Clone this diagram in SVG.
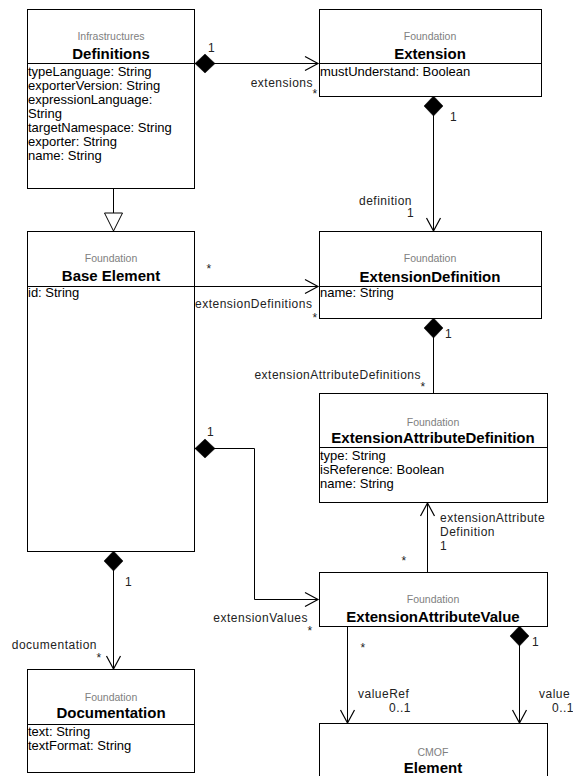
<svg xmlns="http://www.w3.org/2000/svg" width="573" height="776" viewBox="0 0 573 776">
<style>
.box{fill:#fff;stroke:#000;stroke-width:1}
.div{stroke:#000;stroke-width:1}
.st{font-family:"Liberation Sans",Arial,sans-serif;font-size:10.5px;fill:#808080;text-anchor:middle}
.nm{font-family:"Liberation Sans",Arial,sans-serif;font-size:15px;font-weight:bold;fill:#000;text-anchor:middle}
.at{font-family:"Liberation Sans",Arial,sans-serif;font-size:13px;fill:#000}
.lb{font-family:"Liberation Sans",Arial,sans-serif;font-size:12px;letter-spacing:0.5px;fill:#222}
.lbe{text-anchor:end}
.lbm{text-anchor:middle}
.cn{fill:none;stroke:#000;stroke-width:1}
</style>
<defs>
<marker id="open" markerUnits="userSpaceOnUse" markerWidth="15" markerHeight="16" refX="13" refY="7" orient="auto" overflow="visible">
<path d="M0,0 L13,7 L0,14" fill="none" stroke="#000" stroke-width="1.2"/>
</marker>
<marker id="dia" markerUnits="userSpaceOnUse" markerWidth="22" markerHeight="20" refX="0" refY="9.5" orient="auto" overflow="visible">
<path d="M0,9.5 L10,0 L20,9.5 L10,19 Z" fill="#000" stroke="#000" stroke-width="0.5"/>
</marker>
<marker id="gen" markerUnits="userSpaceOnUse" markerWidth="20" markerHeight="20" refX="18" refY="9" orient="auto" overflow="visible">
<path d="M0,0 L18,9 L0,18 Z" fill="#fff" stroke="#000" stroke-width="1"/>
</marker>
</defs>
<rect x="0" y="0" width="573" height="776" fill="#fff"/>

<g id="connectors">
<path class="cn" d="M195,63.5 L318,63.5" marker-start="url(#dia)" marker-end="url(#open)"/>
<path class="cn" d="M433.5,96 L433.5,231" marker-start="url(#dia)" marker-end="url(#open)"/>
<path class="cn" d="M113.5,188 L113.5,231" marker-end="url(#gen)"/>
<path class="cn" d="M194,286.5 L318,286.5" marker-end="url(#open)"/>
<path class="cn" d="M433.5,318 L433.5,394" marker-start="url(#dia)"/>
<path class="cn" d="M427.5,572 L427.5,503" marker-end="url(#open)"/>
<path class="cn" d="M195,448.5 L254.5,448.5 L254.5,599.5 L318,599.5" marker-start="url(#dia)" marker-end="url(#open)"/>
<path class="cn" d="M113.5,551 L113.5,669" marker-start="url(#dia)" marker-end="url(#open)"/>
<path class="cn" d="M347.5,626 L347.5,723" marker-end="url(#open)"/>
<path class="cn" d="M519.5,626 L519.5,723" marker-start="url(#dia)" marker-end="url(#open)"/>
<text class="lb" x="208" y="52">1</text>
<text class="lb lbe" x="313" y="87">extensions</text>
<text class="lb lbm" x="315" y="98">*</text>
<text class="lb" x="450" y="121">1</text>
<text class="lb lbe" x="412" y="205">definition</text>
<text class="lb" x="407" y="217">1</text>
<text class="lb lbm" x="209" y="273">*</text>
<text class="lb" x="195" y="308">extensionDefinitions</text>
<text class="lb lbm" x="315" y="322">*</text>
<text class="lb" x="445" y="338">1</text>
<text class="lb lbe" x="421" y="379">extensionAttributeDefinitions</text>
<text class="lb lbm" x="423" y="391">*</text>
<text class="lb" x="207" y="436">1</text>
<text class="lb" x="440" y="522">extensionAttribute</text>
<text class="lb" x="440" y="536">Definition</text>
<text class="lb" x="440" y="550">1</text>
<text class="lb lbm" x="404" y="565">*</text>
<text class="lb lbe" x="308" y="622">extensionValues</text>
<text class="lb lbm" x="310" y="635">*</text>
<text class="lb" x="125" y="586">1</text>
<text class="lb lbe" x="97" y="649">documentation</text>
<text class="lb lbm" x="99" y="662">*</text>
<text class="lb lbm" x="363" y="652">*</text>
<text class="lb" x="358" y="698">valueRef</text>
<text class="lb lbe" x="411" y="712">0..1</text>
<text class="lb" x="532" y="646">1</text>
<text class="lb" x="539" y="698">value</text>
<text class="lb lbe" x="574" y="712">0..1</text>
</g>

<g id="Definitions">
<rect class="box" x="27.5" y="9.5" width="167" height="179"/>
<line class="div" x1="27.5" y1="63.5" x2="194.5" y2="63.5"/>
<text class="st" x="111" y="40">Infrastructures</text>
<text class="nm" x="111" y="59">Definitions</text>
<text class="at" x="28" y="76">typeLanguage: String</text>
<text class="at" x="28" y="90">exporterVersion: String</text>
<text class="at" x="28" y="104">expressionLanguage:</text>
<text class="at" x="28" y="118">String</text>
<text class="at" x="28" y="132">targetNamespace: String</text>
<text class="at" x="28" y="146">exporter: String</text>
<text class="at" x="28" y="160">name: String</text>
</g>

<g id="Extension">
<rect class="box" x="319.5" y="9.5" width="222" height="87"/>
<line class="div" x1="319.5" y1="63.5" x2="541.5" y2="63.5"/>
<text class="st" x="430" y="40">Foundation</text>
<text class="nm" x="430" y="59">Extension</text>
<text class="at" x="320" y="76">mustUnderstand: Boolean</text>
</g>

<g id="ExtensionDefinition">
<rect class="box" x="319.5" y="231.5" width="222" height="87"/>
<line class="div" x1="319.5" y1="286.5" x2="541.5" y2="286.5"/>
<text class="st" x="430" y="262">Foundation</text>
<text class="nm" x="430" y="282">ExtensionDefinition</text>
<text class="at" x="320" y="297">name: String</text>
</g>

<g id="BaseElement">
<rect class="box" x="27.5" y="231.5" width="167" height="320"/>
<line class="div" x1="27.5" y1="286.5" x2="194.5" y2="286.5"/>
<text class="st" x="111" y="262">Foundation</text>
<text class="nm" x="111" y="281">Base Element</text>
<text class="at" x="28" y="297">id: String</text>
</g>

<g id="ExtensionAttributeDefinition">
<rect class="box" x="319.5" y="393.5" width="228" height="109"/>
<line class="div" x1="319.5" y1="447.5" x2="547.5" y2="447.5"/>
<text class="st" x="433" y="426">Foundation</text>
<text class="nm" x="433" y="443">ExtensionAttributeDefinition</text>
<text class="at" x="320" y="460">type: String</text>
<text class="at" x="320" y="474">isReference: Boolean</text>
<text class="at" x="320" y="488">name: String</text>
</g>

<g id="ExtensionAttributeValue">
<rect class="box" x="319.5" y="572.5" width="228" height="54"/>
<text class="st" x="433" y="603">Foundation</text>
<text class="nm" x="433" y="622">ExtensionAttributeValue</text>
</g>

<g id="Documentation">
<rect class="box" x="27.5" y="669.5" width="167" height="103"/>
<line class="div" x1="27.5" y1="724.5" x2="194.5" y2="724.5"/>
<text class="st" x="111" y="701">Foundation</text>
<text class="nm" x="111" y="718">Documentation</text>
<text class="at" x="28" y="736">text: String</text>
<text class="at" x="28" y="750">textFormat: String</text>
</g>

<g id="Element">
<rect class="box" x="319.5" y="723.5" width="228" height="70"/>
<text class="st" x="433" y="756">CMOF</text>
<text class="nm" x="433" y="773">Element</text>
</g>
</svg>
